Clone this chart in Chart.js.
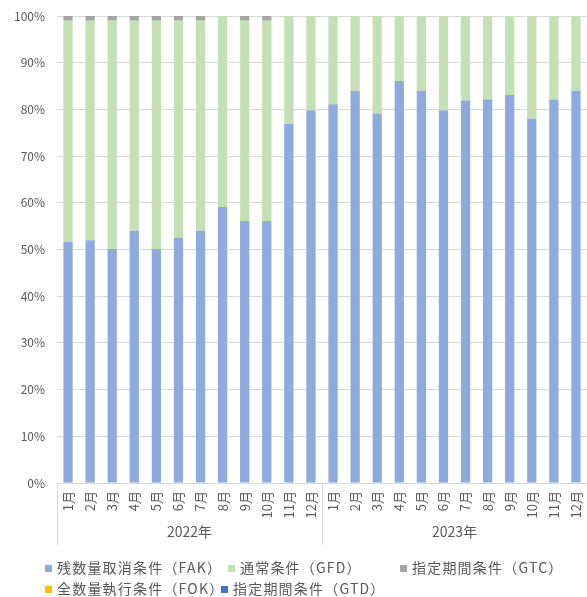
<!DOCTYPE html>
<html><head><meta charset="utf-8">
<script src="https://cdn.jsdelivr.net/npm/chart.js@4"></script>
<style>
html,body{margin:0;padding:0;background:#fff;}
#wrap{position:relative;width:587px;height:597px;}
canvas{position:absolute;left:0;top:0;}
.lg{position:absolute;font-family:"Noto Sans CJK JP","Noto Sans",sans-serif;font-size:14px;letter-spacing:1.2px;color:#595959;white-space:nowrap;line-height:18px;}
.lg i{display:inline-block;width:7px;height:7px;margin-right:5px;vertical-align:middle;position:relative;top:-1px;}
</style></head>
<body><div id="wrap"><canvas id="c" width="587" height="597"></canvas><div id="legend"></div></div>
<script>
const months = ["1月","2月","3月","4月","5月","6月","7月","8月","9月","10月","11月","12月","1月","2月","3月","4月","5月","6月","7月","8月","9月","10月","11月","12月"];
const years = ["2022年","2023年"];
const fak = [51.6,52.0,50.1,54.0,50.1,52.5,54.0,59.1,56.1,56.1,76.9,79.8,81.1,84.0,79.1,86.1,84.0,79.8,81.9,82.1,83.1,78.0,82.1,84.0];
const gfd = [47.4,47.0,48.9,45.0,48.9,46.5,45.0,40.9,42.9,42.9,23.1,20.2,18.9,16.0,20.9,13.9,16.0,20.2,18.1,17.9,16.9,22.0,17.9,16.0];
const gtc = [1,1,1,1,1,1,1,0,1,1,0,0,0,0,0,0,0,0,0,0,0,0,0,0];
const fok = [0,0,0,0,0,0,0,0,0,0,0,0,0,0,0,0,0,0,0,0,0,0,0,0];
const gtd = [0,0,0,0,0,0,0,0,0,0,0,0,0,0,0,0,0,0,0,0,0,0,0,0];
const seriesNames = ["残数量取消条件（FAK）","通常条件（GFD）","指定期間条件（GTC）","全数量執行条件（FOK）","指定期間条件（GTD）"];
const colors = ["#8FAADC","#C5E0B4","#A5A5A5","#FFC000","#4472C4"];
const yTicks = [0,10,20,30,40,50,60,70,80,90,100];

const FONT = '"Noto Sans CJK JP","Noto Sans",sans-serif';
const groupPlugin = {
  id:'groups',
  afterDraw(chart){
    const ctx = chart.ctx, xs = chart.scales.x, area = chart.chartArea;
    const half = (xs.getPixelForValue(1)-xs.getPixelForValue(0))/2;
    ctx.save();
    ctx.strokeStyle = '#D9D9D9'; ctx.lineWidth = 1;
    const seps = [0, 12, 24];
    seps.forEach(i=>{
      const x = Math.round(xs.getPixelForValue(i) - half) + 0.5;
      ctx.beginPath(); ctx.moveTo(x, area.bottom); ctx.lineTo(x, area.bottom+62); ctx.stroke();
    });
    ctx.fillStyle = '#595959';
    ctx.font = '14px ' + FONT;
    ctx.textAlign = 'center'; ctx.textBaseline = 'middle';
    years.forEach((y,g)=>{
      const x = (xs.getPixelForValue(g*12) + xs.getPixelForValue(g*12+11))/2;
      ctx.fillText(y, x, area.bottom + 49);
    });
    ctx.restore();
  }
};

const data = [fak,gfd,gtc,fok,gtd];
new Chart(document.getElementById('c'), {
  type:'bar',
  data:{
    labels: months,
    datasets: seriesNames.map((n,i)=>({label:n,data:data[i],backgroundColor:colors[i],borderWidth:0,categoryPercentage:1,barPercentage:0.42}))
  },
  options:{
    responsive:false, animation:false,
    layout:{padding:{top:16,bottom:47,left:0,right:0}},
    plugins:{legend:{display:false},tooltip:{enabled:false}},
    scales:{
      x:{stacked:true,
        grid:{display:false,drawTicks:false},
        border:{display:true,color:'#D9D9D9'},
        ticks:{autoSkip:false,minRotation:90,maxRotation:90,padding:8,color:'#595959',font:{family:FONT,size:13}},
        afterFit(s){ s.height = 67; s.paddingLeft = 0; s.paddingRight = 0; }
      },
      y:{stacked:true,min:0,max:100,
        grid:{color:'#D9D9D9',drawTicks:false},
        border:{display:false},
        afterBuildTicks(s){ s.ticks = yTicks.map(v=>({value:v})); },
        ticks:{padding:12,color:'#595959',font:{family:FONT,size:12},callback:v=>v+'%'},
        afterFit(s){ s.width = 57; s.paddingTop = 0; s.paddingBottom = 0; }
      }
    }
  },
  plugins:[groupPlugin]
});

const lgPos = [[45,558],[228,558],[400,558],[45,579],[221,579]];
const lg = document.getElementById('legend');
seriesNames.forEach((n,i)=>{
  const d = document.createElement('div');
  d.className='lg'; d.style.left=lgPos[i][0]+'px'; d.style.top=lgPos[i][1]+'px';
  d.innerHTML = '<i style="background:'+colors[i]+'"></i>' + n;
  lg.appendChild(d);
});
</script></body></html>
